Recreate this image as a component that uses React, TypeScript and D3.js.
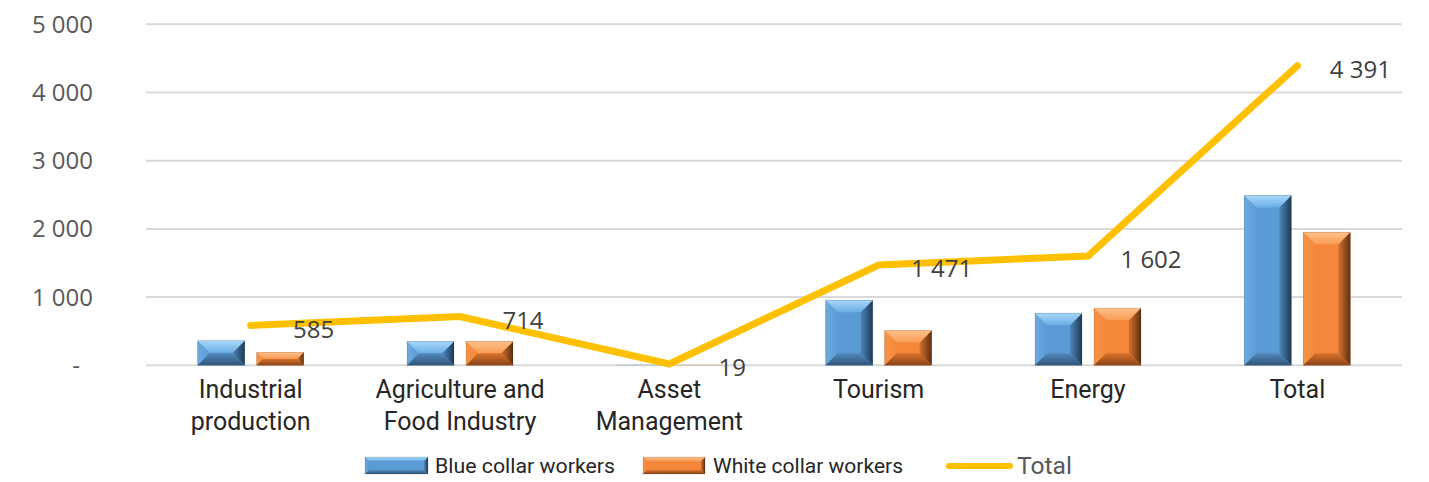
import React from "react";
import * as d3 from "d3";

const categories: string[][] = [
  ["Industrial", "production"],
  ["Agriculture and", "Food Industry"],
  ["Asset", "Management"],
  ["Tourism"],
  ["Energy"],
  ["Total"],
];
const blueCollar = [360, 350, 10, 955, 765, 2490];
const whiteCollar = [190, 350, 9, 510, 840, 1950];
const totals = [585, 714, 19, 1471, 1602, 4391];
const yTicks = [0, 1000, 2000, 3000, 4000, 5000];
const seriesNames = ["Blue collar workers", "White collar workers", "Total"];

const W = 1429;
const H = 482;
const plotLeft = 146;
const plotRight = 1402;
const yTop = 24.3;
const yBottom = 365.3;

const palettes = {
  blue: { face: "#5B9BD5", topA: "#A8D8FA", topB: "#6AAEE6", left: "#6DAAE0", rightA: "#4F86BA", rightB: "#1E3A56", bottomA: "#5189BD", bottomB: "#2F5577" },
  orange: { face: "#F5873A", topA: "#FFC08A", topB: "#F99C55", left: "#F69448", rightA: "#D47130", rightB: "#5E3010", bottomA: "#D9722C", bottomB: "#8A4418" },
};

function Bevel({ x, y, w, h, pal, id, bmax = 12 }: any) {
  if (h < 2) {
    return <rect x={x} y={y} width={w} height={Math.max(h, 0.6)} fill={pal.face} opacity={0.5} />;
  }
  const b = Math.min(bmax, h / 2, w / 2);
  const p = (pts: number[][]) => pts.map((q) => q.join(",")).join(" ");
  return (
    <g>
      <rect x={x} y={y} width={w} height={h} fill={pal.face} />
      <polygon points={p([[x, y], [x + b, y + b], [x + b, y + h - b], [x, y + h]])} fill={`url(#${id}-left)`} />
      <polygon points={p([[x + w, y], [x + w - b, y + b], [x + w - b, y + h - b], [x + w, y + h]])} fill={`url(#${id}-right)`} />
      <polygon points={p([[x, y + h], [x + w, y + h], [x + w - b, y + h - b], [x + b, y + h - b]])} fill={`url(#${id}-bottom)`} />
      <polygon points={p([[x, y], [x + w, y], [x + w - b, y + b], [x + b, y + b]])} fill={`url(#${id}-top)`} />
      <rect x={x} y={y} width={w} height={h} fill="none" stroke="rgba(0,0,0,0.15)" strokeWidth={0.8} />
    </g>
  );
}

function Grads({ id, pal }: any) {
  return (
    <>
      <linearGradient id={`${id}-top`} x1="0" y1="0" x2="0" y2="1">
        <stop offset="0" stopColor={pal.topA} />
        <stop offset="1" stopColor={pal.topB} />
      </linearGradient>
      <linearGradient id={`${id}-left`} x1="0" y1="0" x2="1" y2="0">
        <stop offset="0" stopColor={pal.left} />
        <stop offset="1" stopColor={pal.face} />
      </linearGradient>
      <linearGradient id={`${id}-right`} x1="0" y1="0" x2="1" y2="0">
        <stop offset="0" stopColor={pal.rightA} />
        <stop offset="1" stopColor={pal.rightB} />
      </linearGradient>
      <linearGradient id={`${id}-bottom`} x1="0" y1="0" x2="0" y2="1">
        <stop offset="0" stopColor={pal.bottomA} />
        <stop offset="1" stopColor={pal.bottomB} />
      </linearGradient>
    </>
  );
}

export default function App() {
  const x = d3
    .scaleBand<number>()
    .domain(categories.map((_, i) => i))
    .range([plotLeft, plotRight]);
  const y = d3.scaleLinear().domain([0, 5000]).range([yBottom, yTop]);
  const barW = 47;
  const gap = 12;
  const cx = (i: number) => (x(i) as number) + x.bandwidth() / 2;

  const line = d3
    .line<number>()
    .x((_, i) => cx(i))
    .y((d) => y(d));

  const fmt = (v: number) => (v === 0 ? "-" : d3.format(",")(v).replace(/,/g, " "));

  const tickFont = "'Open Sans', 'DejaVu Sans', sans-serif";
  const catFont = "Roboto, 'DejaVu Sans', sans-serif";

  return (
    <svg width={W} height={H} style={{ position: "absolute", left: 0, top: 0, background: "#fff" }}>
      <defs>
        <Grads id="blue" pal={palettes.blue} />
        <Grads id="orange" pal={palettes.orange} />
      </defs>
      {yTicks.map((t) => (
        <g key={t}>
          <line x1={plotLeft} x2={plotRight} y1={y(t)} y2={y(t)} stroke="#D9D9D9" strokeWidth={2} />
          <text
            x={t === 0 ? 80 : 93}
            y={y(t)}
            dy="0.35em"
            textAnchor="end"
            fontFamily={tickFont}
            fontSize={24}
            fill="#595959"
          >
            {fmt(t)}
          </text>
        </g>
      ))}
      {blueCollar.map((v, i) => (
        <Bevel key={"b" + i} id="blue" pal={palettes.blue} x={cx(i) - gap / 2 - barW} y={y(v)} w={barW} h={yBottom - y(v)} />
      ))}
      {whiteCollar.map((v, i) => (
        <Bevel key={"w" + i} id="orange" pal={palettes.orange} x={cx(i) + gap / 2} y={y(v)} w={barW} h={yBottom - y(v)} />
      ))}
      <path
        d={line(totals) || ""}
        fill="none"
        stroke="#FFC000"
        strokeWidth={7}
        strokeLinecap="round"
        strokeLinejoin="miter"
      />
      {totals.map((v, i) => (
        <text
          key={"l" + i}
          x={cx(i) + 63}
          y={y(v) + 4}
          dy="0.35em"
          textAnchor="middle"
          fontFamily={tickFont}
          fontSize={24}
          fill="#404040"
        >
          {fmt(v)}
        </text>
      ))}
      {categories.map((lines, i) => (
        <text key={"c" + i} textAnchor="middle" fontFamily={catFont} fontSize={25} fill="#262626">
          {lines.map((s, j) => (
            <tspan key={j} x={cx(i)} y={389 + j * 32} dy="0.35em">
              {s}
            </tspan>
          ))}
        </text>
      ))}
      <g>
        <Bevel id="blue" pal={palettes.blue} x={365} y={457} w={63} h={17} bmax={4} />
        <text x={435} y={466} dy="0.35em" fontFamily={catFont} fontSize={21} fill="#262626" textLength={180} lengthAdjust="spacingAndGlyphs">
          {seriesNames[0]}
        </text>
        <Bevel id="orange" pal={palettes.orange} x={643} y={457} w={62} h={17} bmax={4} />
        <text x={713} y={466} dy="0.35em" fontFamily={catFont} fontSize={21} fill="#262626" textLength={190} lengthAdjust="spacingAndGlyphs">
          {seriesNames[1]}
        </text>
        <line x1={949} x2={1010} y1={466} y2={466} stroke="#FFC000" strokeWidth={6} strokeLinecap="round" />
        <text x={1017} y={466} dy="0.35em" fontFamily={catFont} fontSize={24} fill="#595959" textLength={55} lengthAdjust="spacingAndGlyphs">
          {seriesNames[2]}
        </text>
      </g>
    </svg>
  );
}
